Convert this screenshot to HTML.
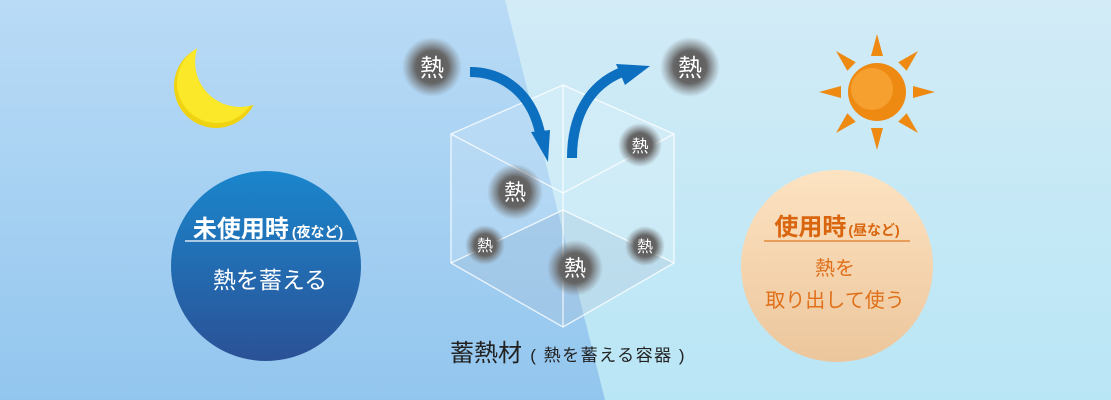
<!DOCTYPE html>
<html><head><meta charset="utf-8"><style>
html,body{margin:0;padding:0;width:1111px;height:400px;overflow:hidden}
svg text{font-family:"Liberation Sans","Noto Sans CJK JP",sans-serif}
</style></head><body>
<svg width="1111" height="400" viewBox="0 0 1111 400" xmlns="http://www.w3.org/2000/svg">
<defs>
<linearGradient id="bgL" x1="0" y1="0" x2="0" y2="1"><stop offset="0" stop-color="#b9dbf6"/><stop offset="1" stop-color="#93c6ee"/></linearGradient>
<linearGradient id="bgR" x1="0" y1="0" x2="0" y2="1"><stop offset="0" stop-color="#d2ebf7"/><stop offset="1" stop-color="#b9e6f5"/></linearGradient>
<linearGradient id="blue" x1="0" y1="0" x2="0" y2="1"><stop offset="0" stop-color="#1a86cc"/><stop offset="1" stop-color="#2b5196"/></linearGradient>
<linearGradient id="org" x1="0" y1="0" x2="0" y2="1"><stop offset="0" stop-color="#fde3c2"/><stop offset="1" stop-color="#ecc69c"/></linearGradient>
<radialGradient id="ball"><stop offset="0" stop-color="#555"/><stop offset="0.55" stop-color="#666"/><stop offset="1" stop-color="#777" stop-opacity="0"/></radialGradient>
<mask id="moonm"><rect width="1111" height="400" fill="#fff"/><circle cx="240" cy="62" r="45" fill="#000"/></mask>
</defs>
<rect width="1111" height="400" fill="url(#bgR)"/>
<polygon points="0,0 505,0 605,400 0,400" fill="url(#bgL)"/>
<!-- moon -->
<circle cx="216" cy="86" r="42" fill="#f0d310" mask="url(#moonm)"/>
<circle cx="217" cy="83" r="40" fill="#fbe828" mask="url(#moonm)"/>
<!-- sun -->
<g fill="#ee8a12" transform="translate(877,92)">
<g id="ray"><polygon points="-6,-36 6,-36 0,-58"/></g>
<use href="#ray" transform="rotate(45)"/><use href="#ray" transform="rotate(90)"/><use href="#ray" transform="rotate(135)"/>
<use href="#ray" transform="rotate(180)"/><use href="#ray" transform="rotate(225)"/><use href="#ray" transform="rotate(270)"/><use href="#ray" transform="rotate(315)"/>
<circle r="29" fill="#ee8a12"/><circle cx="-5" cy="-3" r="21" fill="#f6a030"/>
</g>
<!-- blue circle -->
<circle cx="266" cy="266" r="95" fill="url(#blue)"/>
<text x="268" y="237" text-anchor="middle" fill="#fff" font-size="24" font-weight="bold">未使用時<tspan font-size="14" dx="3">(夜など)</tspan></text>
<line x1="185" y1="241" x2="357" y2="241" stroke="#fff" stroke-width="1.2"/>
<text x="270" y="288" text-anchor="middle" fill="#fff" font-size="23">熱を蓄える</text>
<!-- orange circle -->
<circle cx="837" cy="266" r="96" fill="url(#org)"/>
<text x="837" y="235" text-anchor="middle" fill="#d9660f" font-size="24" font-weight="bold">使用時<tspan font-size="14" dx="2">(昼など)</tspan></text>
<line x1="764" y1="241" x2="910" y2="241" stroke="#e07a22" stroke-width="1.2"/>
<text x="835" y="275" text-anchor="middle" fill="#e0701a" font-size="20">熱を</text>
<text x="835" y="307" text-anchor="middle" fill="#e0701a" font-size="20">取り出して使う</text>
<!-- cube -->
<polygon points="451,134 563,85 674,134 674,263 563,327 451,263" fill="#fff" fill-opacity="0.15"/>
<polygon points="451,263 563,210 674,263 563,327" fill-opacity="0.12" fill="#5a7fa8"/>
<g stroke="#fff" stroke-opacity="0.8" stroke-width="1.3" fill="none">
<polygon points="451,134 563,85 674,134 674,263 563,327 451,263"/>
<polyline points="451,134 563,193 674,134"/>
<line x1="563" y1="85" x2="563" y2="327"/>
<polyline points="451,263 563,210 674,263"/>
</g>
<!-- heat balls -->
<circle cx="432" cy="67" r="30" fill="url(#ball)"/>
<circle cx="690" cy="67" r="30" fill="url(#ball)"/>
<circle cx="640" cy="145" r="22" fill="url(#ball)"/>
<circle cx="515" cy="192" r="28" fill="url(#ball)"/>
<circle cx="485" cy="245" r="20" fill="url(#ball)"/>
<circle cx="575" cy="268" r="28" fill="url(#ball)"/>
<circle cx="645" cy="246" r="20" fill="url(#ball)"/>
<g fill="#fff" text-anchor="middle">
<text x="432" y="76" font-size="24">熱</text>
<text x="690" y="76" font-size="24">熱</text>
<text x="640" y="152" font-size="17">熱</text>
<text x="515" y="200" font-size="22">熱</text>
<text x="485" y="251" font-size="16">熱</text>
<text x="575" y="276" font-size="22">熱</text>
<text x="645" y="252" font-size="16">熱</text>
</g>
<!-- arrows -->
<path d="M470,72 C505,72 532,95 540,133" stroke="#0d6fbf" stroke-width="10" fill="none"/>
<polygon points="531,132 550,130 548,162" fill="#0d6fbf"/>
<path d="M572,158 C572,115 590,85 622,72" stroke="#0d6fbf" stroke-width="10" fill="none"/>
<polygon points="616,64 650,66 625,85" fill="#0d6fbf"/>
<text x="450" y="361" font-size="24" fill="#222">蓄熱材<tspan font-size="17" dx="2" letter-spacing="1.5"> ( 熱を蓄える容器 )</tspan></text>
</svg>
</body></html>
